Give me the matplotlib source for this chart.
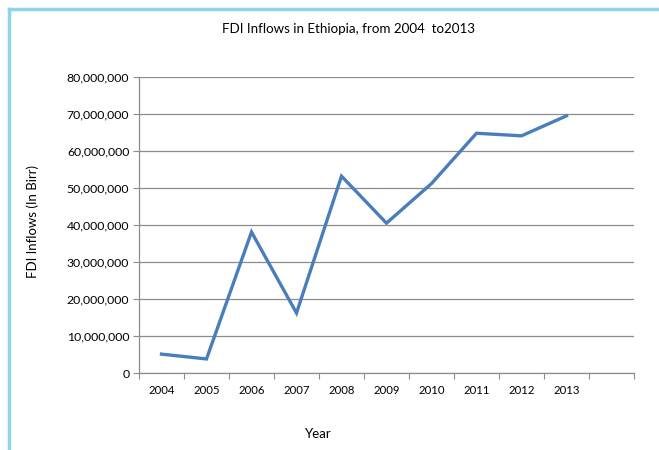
import matplotlib.pyplot as plt
from matplotlib.lines import Line2D
from matplotlib.ticker import FuncFormatter
import numpy as np

years = ['2004', '2005', '2006', '2007', '2008', '2009', '2010', '2011', '2012', '2013']
fdi_inflows = [5.1e6, 3.8e6, 38.1e6, 16.2e6, 53.2e6, 40.5e6, 51.2e6, 64.8e6, 64.1e6, 69.5e6]
n_slots = 11  # Excel left an empty category after 2013

plt.rcParams['font.family'] = ['Lato', 'DejaVu Sans']

fig = plt.figure(figsize=(6.59, 4.5), dpi=100)
ax = fig.add_axes([139 / 659, 1 - 373 / 450, (634 - 139) / 659, (373 - 77) / 450])

x = np.arange(len(years)) + 0.5
ax.plot(x, fdi_inflows, color='#4a7ebb', lw=2.4, solid_joinstyle='miter', zorder=3)

ax.set_xlim(0, n_slots)
ax.set_ylim(0, 80e6)
ax.set_yticks(np.arange(0, 80e6 + 1, 10e6))
ax.yaxis.set_major_formatter(FuncFormatter(lambda v, p: f'{int(v):,}'))
ax.grid(axis='y', color='#8c8c8c', lw=0.9)
ax.set_axisbelow(True)

ax.set_xticks(np.arange(0, n_slots + 1))
ax.set_xticklabels([])
ax.set_xticks(x, minor=True)
ax.set_xticklabels(years, minor=True)
ax.tick_params(axis='x', which='major', length=4, direction='out', color='#8c8c8c')
ax.tick_params(axis='x', which='minor', length=0, pad=9, labelsize=8.2)
ax.tick_params(axis='y', length=4, color='#8c8c8c', labelsize=8.8, pad=3)

for s in ['top', 'right']:
    ax.spines[s].set_visible(False)
for s in ['left', 'bottom']:
    ax.spines[s].set_color('#8c8c8c')
    ax.spines[s].set_linewidth(0.9)

fig.text(348 / 659, 1 - 29 / 450, 'FDI Inflows in Ethiopia, from 2004  to2013',
         ha='center', va='center', fontsize=9.6)
fig.text(318 / 659, 1 - 434 / 450, 'Year', ha='center', va='center', fontsize=9.5)
fig.text(33 / 659, 1 - 222 / 450, 'FDI Inflows (In Birr)', ha='center', va='center',
         rotation=90, fontsize=9.5)

# light blue chart-frame edges (top and left visible in the crop)
fig.add_artist(Line2D([9 / 659, 1], [1 - 9 / 450, 1 - 9 / 450], color='#8fd3ea', lw=2.5))
fig.add_artist(Line2D([9 / 659, 9 / 659], [0, 1 - 9 / 450], color='#8fd3ea', lw=2.5))

fig.savefig('out.png', dpi=100)
